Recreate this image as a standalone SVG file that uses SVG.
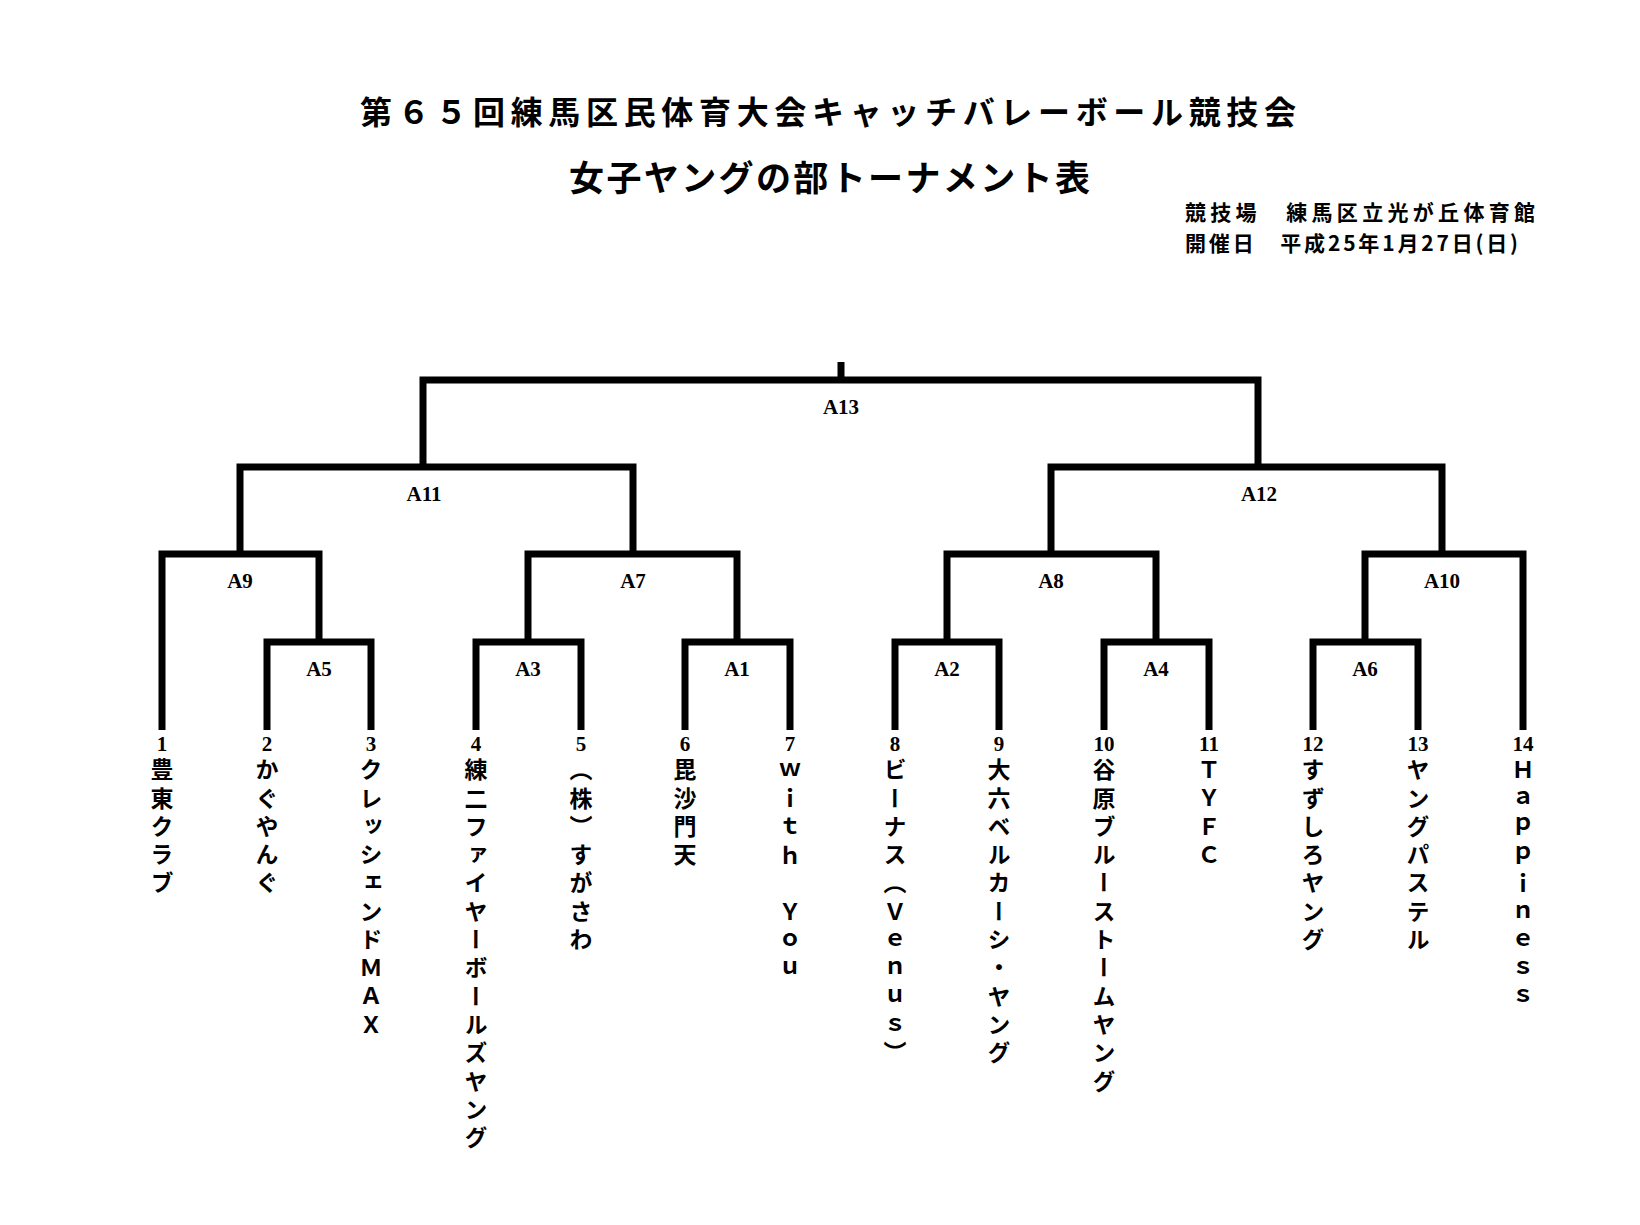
<svg xmlns="http://www.w3.org/2000/svg" width="1640" height="1225" viewBox="0 0 1640 1225">
<style>
.ln{fill:none;stroke:#000;stroke-width:7;stroke-linejoin:miter;stroke-linecap:butt}
.lb{font-family:"Liberation Serif",serif;font-size:21px;font-weight:bold;text-anchor:middle}
.num{font-family:"Liberation Serif",serif;font-size:21px;font-weight:bold;text-anchor:middle}
.nm{font-family:"Noto Sans CJK JP",sans-serif;font-size:23px;font-weight:bold;writing-mode:vertical-rl;text-orientation:upright;letter-spacing:5.3px}
.tt{font-family:"Noto Sans CJK JP",sans-serif;font-weight:bold}
</style>
<rect width="1640" height="1225" fill="#fff"/>
<g id="title">
<text class="tt" x="360" y="124" font-size="32" textLength="936" lengthAdjust="spacing">第６５回練馬区民体育大会キャッチバレーボール競技会</text>
<text class="tt" x="569" y="191" font-size="35" textLength="521" lengthAdjust="spacing">女子ヤングの部トーナメント表</text>
<text class="tt" x="1185" y="220" font-size="21" textLength="350" lengthAdjust="spacing">競技場　練馬区立光が丘体育館</text>
<text class="tt" x="1185" y="251" font-size="21" textLength="333" lengthAdjust="spacing">開催日　平成25年1月27日(日)</text>
</g>
<g id="connectors">
<path class="ln" d="M162 730V554H319V642"/>
<path class="ln" d="M267 730V642H371V730"/>
<path class="ln" d="M476 730V642H581V730"/>
<path class="ln" d="M685 730V642H790V730"/>
<path class="ln" d="M528 642V554H737V642"/>
<path class="ln" d="M240 554V467H633V554"/>
<path class="ln" d="M423 467V380H1258V467"/>
<path class="ln" d="M841 380V362"/>
<path class="ln" d="M895 730V642H999V730"/>
<path class="ln" d="M1104 730V642H1209V730"/>
<path class="ln" d="M947 642V554H1156V642"/>
<path class="ln" d="M1313 730V642H1418V730"/>
<path class="ln" d="M1365 642V554H1523V730"/>
<path class="ln" d="M1051 554V467H1442V554"/>
</g>
<g id="labels">
<text class="lb" x="841" y="414">A13</text>
<text class="lb" x="424" y="501">A11</text>
<text class="lb" x="1259" y="501">A12</text>
<text class="lb" x="240" y="588">A9</text>
<text class="lb" x="633" y="588">A7</text>
<text class="lb" x="1051" y="588">A8</text>
<text class="lb" x="1442" y="588">A10</text>
<text class="lb" x="319" y="676">A5</text>
<text class="lb" x="528" y="676">A3</text>
<text class="lb" x="737" y="676">A1</text>
<text class="lb" x="947" y="676">A2</text>
<text class="lb" x="1156" y="676">A4</text>
<text class="lb" x="1365" y="676">A6</text>
</g>
<g id="team1"><text class="num" x="162" y="751">1</text><text class="nm" x="162" y="758">豊東クラブ</text></g>
<g id="team2"><text class="num" x="267" y="751">2</text><text class="nm" x="267" y="758">かぐやんぐ</text></g>
<g id="team3"><text class="num" x="371" y="751">3</text><text class="nm" x="371" y="758">クレッシェンドＭＡＸ</text></g>
<g id="team4"><text class="num" x="476" y="751">4</text><text class="nm" x="476" y="758">練二ファイヤーボールズヤング</text></g>
<g id="team5"><text class="num" x="581" y="751">5</text><text class="nm" x="581" y="758">（株）すがさわ</text></g>
<g id="team6"><text class="num" x="685" y="751">6</text><text class="nm" x="685" y="758">毘沙門天</text></g>
<g id="team7"><text class="num" x="790" y="751">7</text><text class="nm" x="790" y="758">ｗｉｔｈ　Ｙｏｕ</text></g>
<g id="team8"><text class="num" x="895" y="751">8</text><text class="nm" x="895" y="758">ビーナス（Ｖｅｎｕｓ）</text></g>
<g id="team9"><text class="num" x="999" y="751">9</text><text class="nm" x="999" y="758">大六ベルカーシ・ヤング</text></g>
<g id="team10"><text class="num" x="1104" y="751">10</text><text class="nm" x="1104" y="758">谷原ブルーストームヤング</text></g>
<g id="team11"><text class="num" x="1209" y="751">11</text><text class="nm" x="1209" y="758">ＴＹＦＣ</text></g>
<g id="team12"><text class="num" x="1313" y="751">12</text><text class="nm" x="1313" y="758">すずしろヤング</text></g>
<g id="team13"><text class="num" x="1418" y="751">13</text><text class="nm" x="1418" y="758">ヤングパステル</text></g>
<g id="team14"><text class="num" x="1523" y="751">14</text><text class="nm" x="1523" y="758">Ｈａｐｐｉｎｅｓｓ</text></g>
</svg>
